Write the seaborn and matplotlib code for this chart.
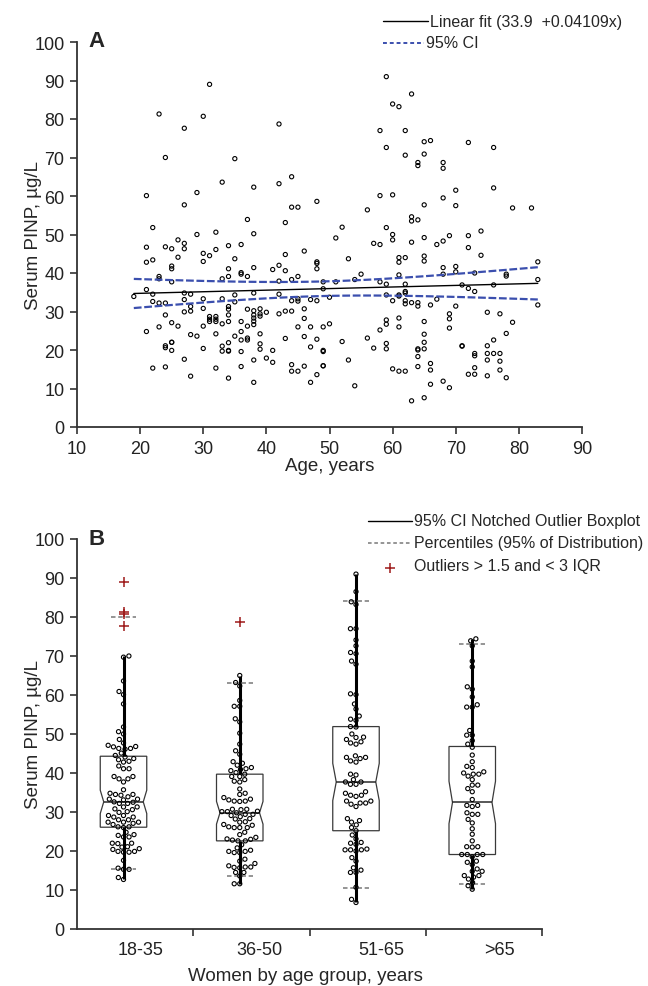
import numpy as np
import pandas as pd
import matplotlib
matplotlib.use('Agg')
import matplotlib.pyplot as plt
from matplotlib.lines import Line2D
from matplotlib.path import Path
import seaborn as sns

# -> DATA (one entry per woman)

age_18_35 = [19,
             21, 21, 21, 21, 21,
             22, 22, 22, 22, 22,
             23, 23, 23, 23, 23,
             24, 24, 24, 24, 24, 24, 24,
             25, 25, 25, 25, 25, 25, 25, 25,
             26, 26, 26,
             27, 27, 27, 27, 27, 27, 27, 27,
             28, 28, 28, 28, 28,
             29, 29, 29,
             30, 30, 30, 30, 30, 30, 30,
             31, 31, 31, 31, 31,
             32, 32, 32, 32, 32, 32, 32,
             33, 33, 33, 33, 33, 33,
             34, 34, 34, 34, 34, 34, 34, 34, 34, 34, 34,
             35, 35, 35, 35, 35]
pinp_18_35 = [33.9,
              60.1, 46.7, 42.8, 35.7, 24.8,
              51.8, 43.4, 34.5, 32.6, 15.3,
              81.3, 39.1, 38.5, 32.2, 26.0,
              70.0, 46.8, 32.2, 29.1, 21.1, 20.6, 15.6,
              46.3, 41.8, 41.1, 37.7, 27.1, 22.0, 22.0, 19.9,
              48.6, 44.1, 26.2,
              77.6, 57.7, 47.7, 46.3, 34.8, 33.1, 29.9, 17.6,
              34.5, 31.3, 30.1, 24.0, 13.2,
              60.9, 50.0, 23.6,
              80.7, 45.1, 43.0, 33.3, 30.8, 26.2, 20.4,
              89.0, 44.5, 28.7, 28.0, 27.4,
              50.6, 46.1, 28.7, 28.0, 27.4, 24.2, 15.3,
              63.6, 38.5, 33.3, 26.8, 21.0, 19.7,
              47.1, 41.1, 39.1, 31.3, 30.6, 29.1, 27.4, 21.9, 19.9, 19.7, 12.7,
              69.7, 43.7, 34.3, 32.5, 23.6]

age_36_50 = [36, 36, 36, 36, 36, 36, 36, 36,
             37, 37, 37, 37, 37, 37,
             38, 38, 38, 38, 38, 38, 38, 38, 38, 38, 38,
             39, 39, 39, 39, 39, 39,
             40, 40,
             41, 41, 41,
             42, 42, 42, 42, 42, 42,
             43, 43, 43, 43, 43,
             44, 44, 44, 44, 44, 44, 44,
             45, 45, 45, 45, 45, 45,
             46, 46, 46, 46, 46,
             47, 47, 47, 47,
             48, 48, 48, 48, 48, 48, 48,
             49, 49, 49, 49, 49, 49, 49,
             50, 50]
pinp_36_50 = [47.4, 40.1, 39.7, 27.4, 24.8, 22.6, 19.6, 15.7,
              53.9, 39.1, 30.6, 26.2, 23.1, 22.6,
              62.3, 50.2, 41.4, 34.8, 30.2, 29.1, 28.3, 27.5, 26.6, 17.4, 11.6,
              30.7, 29.4, 28.8, 24.2, 21.6, 20.2,
              29.8, 17.9,
              40.9, 19.9, 16.8,
              78.7, 63.2, 42.0, 37.9, 34.5, 29.4,
              53.1, 44.8, 40.6, 30.1, 23.0,
              65.0, 57.1, 38.3, 32.8, 30.1, 16.2, 14.5,
              57.1, 39.1, 33.3, 32.7, 26.0, 14.5,
              45.7, 30.7, 28.2, 23.5, 15.8,
              33.1, 26.0, 20.8, 11.6,
              58.6, 42.9, 42.5, 41.1, 32.8, 22.8, 13.6,
              37.7, 35.9, 26.0, 19.9, 19.6, 15.9, 15.9,
              33.7, 26.8]

age_51_65 = [51, 51, 52, 52, 53, 53, 54, 54, 55, 56, 56, 57, 57,
             58, 58, 58, 58, 58,
             59, 59, 59, 59, 59, 59, 59, 59, 59,
             60, 60, 60, 60, 60, 60,
             61, 61, 61, 61, 61, 61, 61, 61, 61,
             62, 62, 62, 62, 62, 62, 62, 62, 62,
             63, 63, 63, 63, 63, 63,
             64, 64, 64, 64, 64, 64, 64, 64, 64,
             65, 65, 65, 65, 65, 65, 65, 65, 65, 65, 65]
pinp_51_65 = [49.1, 37.7, 51.9, 22.2, 43.7, 17.4, 38.3, 10.7, 39.7, 56.4, 23.1, 47.7, 20.5,
              77.0, 60.1, 47.4, 37.7, 25.2,
              91.0, 72.6, 51.8, 37.1, 34.3, 27.8, 26.7, 21.7, 20.3,
              83.9, 60.3, 50.0, 48.6, 32.8, 15.1,
              83.2, 44.0, 42.8, 39.5, 34.3, 34.0, 28.3, 26.0, 14.5,
              77.0, 70.6, 44.0, 37.1, 35.2, 34.8, 32.8, 32.0, 14.5,
              86.5, 54.6, 53.5, 48.0, 32.3, 6.8,
              68.7, 67.9, 53.8, 32.3, 31.4, 20.3, 20.0, 18.3, 15.7,
              74.1, 70.9, 57.7, 49.2, 44.4, 43.1, 27.4, 24.1, 22.0, 20.3, 7.6]

age_over_65 = [66, 66, 66, 66, 66, 67, 67,
               68, 68, 68, 68, 68, 68, 68,
               69, 69, 69, 69, 69,
               70, 70, 70, 70, 70,
               71, 71, 71,
               72, 72, 72, 72, 72,
               73, 73, 73, 73, 73, 73,
               74, 74,
               75, 75, 75, 75, 75,
               76, 76, 76, 76, 76,
               77, 77, 77, 77,
               78, 78, 78, 78,
               79, 79, 82, 83, 83, 83]
pinp_over_65 = [74.4, 31.7, 16.5, 14.8, 11.1, 47.4, 33.2,
                68.7, 67.2, 59.5, 48.3, 41.4, 39.7, 11.9,
                49.7, 29.4, 28.1, 25.7, 10.2,
                61.5, 57.5, 41.7, 40.3, 31.4,
                36.9, 21.1, 21.0,
                73.9, 49.7, 46.6, 36.0, 13.7,
                40.0, 35.2, 19.1, 18.5, 15.4, 13.7,
                50.9, 44.6,
                29.8, 21.1, 19.1, 17.4, 13.3,
                72.6, 62.1, 36.9, 22.6, 19.1,
                29.4, 19.1, 17.1, 14.8,
                39.7, 39.2, 24.3, 12.8,
                56.9, 27.2, 56.9, 42.9, 38.3, 31.7]

groups = ['18-35', '36-50', '51-65', '>65']

# linear fit reported in the legend
fit_intercept = 33.9
fit_slope = 0.04109

ci_blue = '#3b4fae'
flier_red = '#9e1a1a'

W, H = 648, 987

df = pd.concat([
    pd.DataFrame({'age': age_18_35, 'pinp': pinp_18_35, 'group': groups[0]}),
    pd.DataFrame({'age': age_36_50, 'pinp': pinp_36_50, 'group': groups[1]}),
    pd.DataFrame({'age': age_51_65, 'pinp': pinp_51_65, 'group': groups[2]}),
    pd.DataFrame({'age': age_over_65, 'pinp': pinp_over_65, 'group': groups[3]}),
], ignore_index=True)

# outliers (> 1.5 IQR) are drawn as '+' by the boxplot, not as circles
def flag_outliers(v):
    q1, q3 = np.percentile(v, [25, 75])
    iqr = q3 - q1
    return (v < q1 - 1.5 * iqr) | (v > q3 + 1.5 * iqr)

df['outlier'] = df.groupby('group')['pinp'].transform(flag_outliers).astype(bool)

# -> STYLE

sns.set_style('ticks')
plt.rcParams['font.family'] = ['Liberation Sans', 'DejaVu Sans']
plt.rcParams['axes.edgecolor'] = '#333333'
plt.rcParams['axes.linewidth'] = 1.3
plt.rcParams['xtick.color'] = '#333333'
plt.rcParams['ytick.color'] = '#333333'
plt.rcParams['xtick.labelcolor'] = '#222222'
plt.rcParams['ytick.labelcolor'] = '#222222'

fig = plt.figure(figsize=(W / 100, H / 100), dpi=100)
axA = fig.add_axes([77 / W, 1 - 428 / H, 505 / W, 385 / H])
axB = fig.add_axes([77 / W, 1 - 930 / H, 465 / W, 390 / H])

# -> PANEL A: scatter with linear fit and 95% CI

sns.scatterplot(data=df, x='age', y='pinp', ax=axA, s=9, facecolor='none',
                edgecolor='black', linewidth=0.8, legend=False, zorder=3)

xs = np.sort(df['age'].unique()).astype(float)
fit = fit_intercept + fit_slope * xs
n = len(df)
resid = df['pinp'] - (fit_intercept + fit_slope * df['age'])
s_res = np.sqrt((resid ** 2).sum() / (n - 2))
xbar = df['age'].mean()
sxx = ((df['age'] - xbar) ** 2).sum()
half = 1.968 * s_res * np.sqrt(1 / n + (xs - xbar) ** 2 / sxx)

sns.lineplot(x=xs, y=fit, ax=axA, color='black', linewidth=1.0, zorder=4)
sns.lineplot(x=xs, y=fit + half, ax=axA, color=ci_blue, linewidth=1.6,
             linestyle=(0, (3.5, 1.2)), zorder=4)
sns.lineplot(x=xs, y=fit - half, ax=axA, color=ci_blue, linewidth=1.6,
             linestyle=(0, (3.5, 1.2)), zorder=4)

axA.set_xlim(10, 90)
axA.set_ylim(0, 100)
axA.set_xticks(range(10, 91, 10))
axA.set_yticks(range(0, 101, 10))
axA.set_xlabel('Age, years', fontsize=13.5)
axA.set_ylabel('Serum PINP, µg/L', fontsize=13.5)
axA.xaxis.set_label_coords(0.5, -0.078)
axA.yaxis.set_label_coords(-0.069, 0.5)

# -> PANEL B: notched boxplots by age group with the points on top

sns.boxplot(data=df, x='group', y='pinp', order=groups, ax=axB, width=0.4,
            notch=True, whis=1.5, color='white', saturation=1,
            linecolor='#3a3a3a', linewidth=0.9, showcaps=False,
            whiskerprops=dict(color='black', linewidth=2.2),
            medianprops=dict(color='#2a2a2a', linewidth=1.1),
            flierprops=dict(marker='+', markeredgecolor=flier_red,
                            markersize=7, markeredgewidth=1.1))

# shallower notches like the original
for i, patch in enumerate(axB.patches[:len(groups)]):
    verts = patch.get_path().vertices.copy()
    inner = np.abs(verts[:, 0] - i) < 0.2 - 1e-6
    verts[inner, 0] = i + np.sign(verts[inner, 0] - i) * 0.17
    patch.set_path(Path(verts, patch.get_path().codes))
for line in axB.lines:
    xd, yd = np.asarray(line.get_xdata(), float), np.asarray(line.get_ydata(), float)
    if len(xd) == 2 and yd[0] == yd[1] and 0 < xd[1] - xd[0] < 0.39:
        c = xd.mean()
        line.set_xdata([c - 0.17, c + 0.17])

sns.swarmplot(data=df[~df['outlier']], x='group', y='pinp', order=groups, ax=axB,
              size=3, facecolor='none', edgecolor='black', linewidth=0.8, zorder=3)

# percentile markers covering 95% of each distribution
for i, g in enumerate(groups):
    lo, hi = np.percentile(df.loc[df['group'] == g, 'pinp'], [2.5, 97.5])
    axB.hlines([lo, hi], i - 0.11, i + 0.11, colors='#8c8c8c',
               linestyles=(0, (2.5, 1.5)), linewidth=1.3, zorder=2.5)

axB.set_xlim(-0.4, 3.6)
axB.set_ylim(0, 100)
axB.set_yticks(range(0, 101, 10))
axB.set_xticks([0.6, 1.6, 2.6, 3.6])
axB.set_xticklabels([])
axB.set_xticks([0.15, 1.17, 2.22, 3.23], minor=True)
axB.set_xticklabels(groups, minor=True)
axB.set_xlabel('Women by age group, years', fontsize=13.5)
axB.set_ylabel('Serum PINP, µg/L', fontsize=13.5)
axB.xaxis.set_label_coords(0.491, -0.098)
axB.yaxis.set_label_coords(-0.075, 0.5)

for ax in (axA, axB):
    sns.despine(ax=ax)
    ax.tick_params(axis='both', which='major', direction='out', length=5,
                   width=1.2, labelsize=13, pad=4)
axB.tick_params(axis='x', which='minor', length=0, pad=9, labelsize=13)

# -> PANEL LETTERS AND LEGENDS (placed in figure pixels)

def fx(px):
    return px / W

def fy(py):
    return 1 - py / H

fig.text(fx(88), fy(47), 'A', fontsize=16, fontweight='bold', ha='left', va='baseline')
fig.text(fx(88), fy(545), 'B', fontsize=16, fontweight='bold', ha='left', va='baseline')

legend_size = 11.5
fig.add_artist(Line2D([fx(383), fx(428)], [fy(22), fy(22)], color='black', linewidth=1.0))
fig.text(fx(430), fy(22), 'Linear fit (33.9  +0.04109x)', fontsize=legend_size, va='center')
fig.add_artist(Line2D([fx(383), fx(424)], [fy(43.5), fy(43.5)], color=ci_blue,
                      linewidth=1.4, linestyle=(0, (2, 1.5))))
fig.text(fx(426), fy(43.5), '95% CI', fontsize=legend_size, va='center')

fig.add_artist(Line2D([fx(368), fx(412)], [fy(521.5), fy(521.5)], color='black', linewidth=1.0))
fig.text(fx(414), fy(521.5), '95% CI Notched Outlier Boxplot', fontsize=legend_size, va='center')
fig.add_artist(Line2D([fx(368), fx(410)], [fy(543.5), fy(543.5)], color='#8c8c8c',
                      linewidth=1.3, linestyle=(0, (2, 1.5))))
fig.text(fx(414), fy(543.5), 'Percentiles (95% of Distribution)', fontsize=legend_size, va='center')
fig.add_artist(Line2D([fx(390)], [fy(569)], color=flier_red, marker='+', markersize=7,
                      markeredgewidth=1.1, linestyle='none'))
fig.text(fx(414), fy(567), 'Outliers > 1.5 and < 3 IQR', fontsize=legend_size, va='center')

fig.savefig('out.png', dpi=100)
